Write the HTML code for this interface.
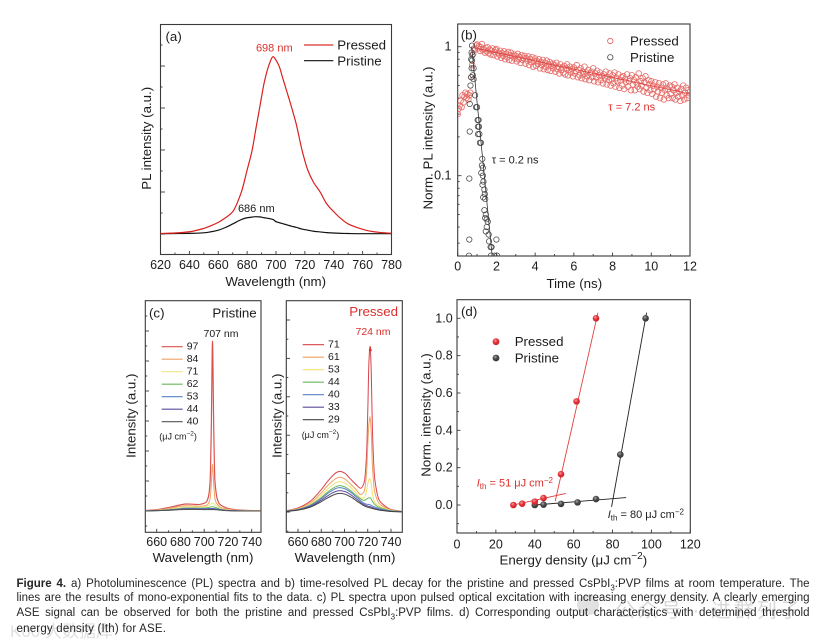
<!DOCTYPE html>
<html lang="en">
<head>
<meta charset="utf-8">
<title>Figure 4</title>
<style>
html,body{margin:0;padding:0;background:#fff;width:821px;height:641px;overflow:hidden}
#fig{position:absolute;left:0;top:0;filter:blur(0.28px)}
svg text{font-family:"Liberation Sans","Noto Sans CJK SC",sans-serif;fill:#1c1c1c}
.t{font-size:12.5px;dominant-baseline:central}
.a{font-size:13.3px;text-anchor:middle;dominant-baseline:central}
.l{font-size:13.3px;dominant-baseline:central}
.s{font-size:10.5px;dominant-baseline:central}
.n{font-size:11px;dominant-baseline:central}
.cap{position:absolute;left:16.5px;width:793px;font:11.5px/15px "Liberation Sans",sans-serif;color:#262626;text-align:justify;text-align-last:justify;white-space:nowrap;filter:blur(0.25px)}
.cap sub{font-size:8px;line-height:0}
.wm{position:absolute;font-family:"Liberation Sans","Noto Sans CJK SC",sans-serif;color:#b9b9b9;white-space:nowrap;opacity:.75}
</style>
</head>
<body>
<svg id="fig" width="821" height="641" viewBox="0 0 821 641">
<defs>
<radialGradient id="ballRed" cx="40%" cy="35%" r="65%"><stop offset="0" stop-color="#f6a3a3"/><stop offset=".45" stop-color="#e8343c"/><stop offset="1" stop-color="#c8202a"/></radialGradient>
<radialGradient id="ballBlack" cx="40%" cy="35%" r="65%"><stop offset="0" stop-color="#a8a8a8"/><stop offset=".45" stop-color="#4e4e4e"/><stop offset="1" stop-color="#333"/></radialGradient>
<clipPath id="clipB"><rect x="458" y="24" width="232" height="232"/></clipPath>
<clipPath id="clipC"><rect x="145.5" y="301" width="115.5" height="231"/></clipPath>
<clipPath id="clipP"><rect x="286.5" y="301" width="116" height="231"/></clipPath>
</defs>
<g id="panelA">
<text x="165.5" y="36.5" class="l">(a)</text>
<text x="274.3" y="48.3" class="n" text-anchor="middle" style="fill:#d9302c">698 nm</text>
<text x="256.3" y="209" class="n" text-anchor="middle">686 nm</text>
<line x1="304" x2="333.3" y1="45" y2="45" stroke="#d9302c" stroke-width="1.2"/>
<line x1="304" x2="333.3" y1="60.7" y2="60.7" stroke="#111" stroke-width="1.2"/>
<text x="337.3" y="45" class="l">Pressed</text>
<text x="337.3" y="61" class="l">Pristine</text>
<text class="a" x="275.7" y="281.7">Wavelength (nm)</text>
<text class="a" transform="translate(146.7 138.3) rotate(-90)">PL intensity (a.u.)</text>
</g>
<g id="panelB">
<text x="460.7" y="35" class="l">(b)</text>
<text x="630" y="41" class="l">Pressed</text>
<text x="630" y="57.5" class="l">Pristine</text>
<circle cx="610.3" cy="41" r="2.7" fill="none" stroke="#e2605c" stroke-width=".8"/>
<circle cx="610.3" cy="57.3" r="2.7" fill="none" stroke="#444" stroke-width=".8"/>
<text x="608.3" y="107.7" class="n" style="fill:#d9302c">τ = 7.2 ns</text>
<text x="491.7" y="160.3" class="n">τ = 0.2 ns</text>
<text class="a" x="574.3" y="283.3">Time (ns)</text>
<text class="a" transform="translate(428 138) rotate(-90)">Norm. PL intensity (a.u.)</text>
</g>
<g id="panelC">
<text x="149" y="313" class="l">(c)</text>
<text x="256.7" y="313" class="l" text-anchor="end">Pristine</text>
<text x="221" y="334" class="s" text-anchor="middle">707 nm</text>
<text x="159.3" y="436.5" style="font-size:9px;dominant-baseline:central">(μJ cm<tspan dy="-3" font-size="6.5">−2</tspan><tspan dy="3">)</tspan></text>
<text class="a" x="203" y="557.7">Wavelength (nm)</text>
<text class="a" transform="translate(131 415.7) rotate(-90)">Intensity (a.u.)</text>
</g>
<g id="panelP">
<text x="398" y="311.7" class="l" text-anchor="end" style="fill:#d9302c">Pressed</text>
<text x="373" y="332" class="s" text-anchor="middle" style="fill:#d9302c">724 nm</text>
<text x="301.7" y="435" style="font-size:9px;dominant-baseline:central">(μJ cm<tspan dy="-3" font-size="6.5">−2</tspan><tspan dy="3">)</tspan></text>
<text class="a" x="345" y="557.7">Wavelength (nm)</text>
<text class="a" transform="translate(277 415.7) rotate(-90)">Intensity (a.u.)</text>
</g>
<g id="panelD">
<text x="461" y="311.7" class="l">(d)</text>
<text x="514.7" y="341.7" class="l">Pressed</text>
<text x="514.7" y="358" class="l">Pristine</text>
<circle cx="496" cy="341.7" r="3.4" fill="url(#ballRed)"/>
<circle cx="496" cy="358" r="3.4" fill="url(#ballBlack)"/>
<text x="476.7" y="483.3" class="n" style="fill:#d9302c"><tspan font-style="italic">I</tspan><tspan dy="2.5" font-size="8">th</tspan><tspan dy="-2.5"> = 51 μJ cm</tspan><tspan dy="-3.5" font-size="8">−2</tspan></text>
<text x="607.7" y="515" class="n"><tspan font-style="italic">I</tspan><tspan dy="2.5" font-size="8">th</tspan><tspan dy="-2.5"> = 80 μJ cm</tspan><tspan dy="-3.5" font-size="8">−2</tspan></text>
<text class="a" x="573.3" y="560">Energy density (μJ cm<tspan dy="-4" font-size="10">−2</tspan><tspan dy="4">)</tspan></text>
<text class="a" transform="translate(426 415) rotate(-90)">Norm. intensity (a.u.)</text>
</g>
</svg>

<div class="wm" style="left:10px;top:617px;font-size:17px;opacity:.45">K00 大数据库</div>
<div style="position:absolute;left:577px;top:595px;width:22px;height:20px;border-radius:50%;background:#c9c9c9;opacity:.55"></div>
<div class="wm" style="left:615px;top:594px;font-size:20px;letter-spacing:3px;opacity:.55">公众号 · 进群列子</div>

<div class="cap" style="top:576.5px"><b>Figure 4.</b> a) Photoluminescence (PL) spectra and b) time-resolved PL decay for the pristine and pressed CsPbI<sub>3</sub>:PVP films at room temperature. The</div>
<div class="cap" style="top:591px">lines are the results of mono-exponential fits to the data. c) PL spectra upon pulsed optical excitation with increasing energy density. A clearly emerging</div>
<div class="cap" style="top:606px">ASE signal can be observed for both the pristine and pressed CsPbI<sub>3</sub>:PVP films. d) Corresponding output characteristics with determined threshold</div>
<div class="cap" style="top:622px;text-align-last:left;letter-spacing:.2px">energy density (Ith) for ASE.</div>

<script>
// ---------- Panel (a) data ----------
const aWavelengths = [620,630,640,650,655,660,665,670,676,680,683.5,686,688.6,692,695,698,700,702,705,708,711,714,718,722,726,730.6,735,740,745,750,758,765,772,780];
const aPressed = [0.001,0.004,0.011,0.03,0.045,0.064,0.09,0.124,0.235,0.36,0.473,0.59,0.708,0.86,0.95,1,0.98,0.95,0.87,0.79,0.708,0.62,0.473,0.36,0.29,0.235,0.17,0.124,0.085,0.055,0.03,0.015,0.007,0.002];
const aPristine = [0,0.001,0.002,0.005,0.011,0.02,0.035,0.055,0.08,0.09,0.094,0.096,0.095,0.09,0.086,0.08,0.068,0.063,0.056,0.049,0.042,0.036,0.026,0.02,0.014,0.01,0.006,0.004,0.002,0.001,0,0,0,0];
const aXTicks = [620,640,660,680,700,720,740,760,780];

// ---------- Panel (b) data ----------
const bPressedStep = 0.05;
const bPressed = [
.30,.33,.35,.38,.34,.42,.37,.41,.44,.40,
.43,.39,.42,.44,.58,.72,.88,.97,.95,1.02,
1.04,.97,1.01,.93,.99,1.05,.94,.96,.90,.98,
.92,.99,.89,.95,.87,.93,.97,.86,.91,.94,
.96,.84,.90,.87,.93,.82,.89,.85,.92,.80,
.88,.83,.91,.79,.86,.90,.78,.84,.87,.81,
.85,.77,.88,.80,.83,.75,.86,.79,.82,.85,
.74,.81,.78,.84,.72,.80,.76,.83,.70,.78,
.81,.71,.77,.74,.80,.68,.76,.72,.79,.67,
.75,.70,.78,.66,.73,.76,.65,.71,.74,.68,
.72,.64,.75,.67,.70,.62,.73,.66,.69,.63,
.71,.61,.68,.73,.60,.66,.70,.63,.67,.59,
.69,.62,.65,.72,.58,.66,.60,.68,.57,.64,
.61,.70,.56,.63,.59,.66,.55,.62,.64,.58,
.68,.54,.62,.58,.65,.53,.60,.63,.55,.59,
.52,.61,.57,.64,.51,.58,.55,.62,.50,.56,
.60,.52,.63,.49,.57,.54,.61,.48,.55,.58,
.50,.59,.47,.56,.53,.61,.49,.54,.57,.46,
.60,.51,.55,.46,.58,.52,.49,.62,.47,.54,
.50,.57,.45,.53,.59,.48,.44,.55,.51,.46,
.54,.43,.50,.47,.53,.41,.49,.45,.52,.40,
.48,.44,.51,.39,.46,.52,.42,.47,.40,.50,
.43,.49,.40,.46,.51,.39,.44,.48,.41,.45,
.38,.47,.42,.50,.39,.44,.48,.40,.46,.42,
.45];
const bPristineT = [.74,.72,.76,.70,.74,.72,.82,.70,.66,.82,.78,.9,.62,.62,.6,.6,.58,.95,1.0,1.03,1.08,1.05,1.1,1.05,1.12,1.15,1.2,1.27,1.25,1.3,1.22,1.3,1.33,1.28,1.38,1.4,1.32,1.42,1.38,1.45,1.42,1.5,1.55,1.5,1.45,1.6,2.0,1.62,1.7,1.75,1.72,1.9,2.03];
const bPristineV = [1.02,.9,.86,.80,.78,.68,.68,.58,.50,.56,.60,.42,.36,.22,.095,.032,.024,.34,.34,.27,.27,.24,.24,.21,.21,.18,.18,.135,.12,.115,.105,.1,.09,.085,.078,.072,.068,.066,.054,.05,.047,.046,.044,.04,.037,.035,.032,.031,.028,.028,.024,.024,.024];
const bFitPressedT = [0.85,12];
const bFitPressedV = [0.98,0.43];
const bFitPristineT = [0.72,1.78];
const bFitPristineV = [1.0,0.024];
const bXTicks = [0,2,4,6,8,10,12];

// ---------- Panel (c) pristine data ----------
const cWavelengths = [650,660,670,680,685,690,695,700,702,703,704,705,706,707,708,709,710,711,713,715,720,730,740,748];
const cLabels = ['97','84','71','62','53','44','40'];
const cColors = ['#d9534f','#efa063','#efe88a','#6ab85c','#5a80c4','#5c4a9c','#555555'];
const c97 = [.002,.008,.02,.036,.041,.04,.038,.045,.055,.07,.10,.18,.5,1,.5,.18,.11,.07,.04,.03,.015,.005,.002,.001];
const c84 = [.002,.006,.015,.027,.031,.03,.028,.03,.033,.04,.05,.075,.16,.275,.16,.075,.05,.04,.025,.018,.01,.003,.001,.001];
const c71 = [.001,.004,.01,.02,.024,.024,.023,.025,.027,.03,.033,.038,.044,.047,.044,.038,.032,.028,.018,.012,.006,.002,.001,0];
const c62 = [.001,.003,.008,.015,.018,.018,.017,.018,.019,.02,.021,.023,.024,.025,.024,.022,.02,.018,.012,.009,.004,.001,.001,0];
const c53 = [.001,.002,.006,.012,.015,.015,.014,.014,.014,.014,.015,.015,.015,.015,.015,.014,.013,.012,.009,.007,.003,.001,0,0];
const c44 = [0,.002,.005,.01,.012,.012,.011,.011,.011,.011,.011,.012,.012,.012,.011,.011,.01,.009,.007,.005,.002,.001,0,0];
const c40 = [0,.002,.004,.008,.009,.009,.009,.008,.008,.008,.008,.008,.008,.008,.008,.008,.007,.007,.005,.004,.002,0,0,0];
const cXTicks = [660,680,700,720,740];

// ---------- Panel (c) pressed data ----------
const pWavelengths = [650,660,670,680,685,690,693,696,700,705,710,714,717,719,720,721,722,723,724,726,730,735,740,750];
const pLabels = ['71','61','53','44','40','33','29'];
const pColors = ['#d9434a','#efa063','#f2e070','#6ab85c','#5a80c4','#5c4a9c','#444444'];
const p71 = [.007,.025,.062,.135,.181,.22,.238,.245,.235,.2,.165,.143,.18,.35,.6,.9,1,.85,.5,.2,.07,.035,.015,.004];
const p61 = [.006,.021,.052,.115,.155,.188,.203,.209,.2,.17,.135,.105,.125,.24,.4,.53,.575,.48,.28,.12,.05,.027,.012,.003];
const p53 = [.005,.018,.046,.1,.135,.165,.178,.183,.175,.15,.115,.085,.085,.13,.17,.195,.2,.17,.11,.06,.035,.02,.01,.003];
const p44 = [.005,.016,.04,.087,.118,.143,.154,.159,.152,.13,.1,.078,.07,.078,.083,.086,.086,.078,.065,.045,.027,.016,.008,.002];
const p40 = [.004,.015,.037,.08,.109,.132,.143,.147,.141,.121,.092,.068,.052,.047,.046,.045,.043,.04,.036,.03,.02,.012,.006,.002];
const p33 = [.004,.013,.032,.071,.095,.116,.125,.129,.124,.106,.08,.058,.044,.038,.036,.034,.032,.03,.027,.022,.014,.009,.004,.001];
const p29 = [.003,.011,.028,.062,.083,.101,.109,.112,.108,.092,.069,.05,.037,.031,.029,.027,.025,.023,.021,.017,.011,.007,.003,.001];

// ---------- Panel (d) data ----------
const dPressedX = [29,33.5,40,44.5,53.5,61.5,71.5];
const dPressedY = [0,0.007,0.018,0.037,0.165,0.555,1.0];
const dPristineX = [40,44.5,53.5,62,71.5,84,97];
const dPristineY = [0,0.002,0.006,0.014,0.032,0.27,1.0];
const dFitPressedLowX = [29,56];
const dFitPressedLowY = [0,0.062];
const dFitPressedHighX = [50.5,72.5];
const dFitPressedHighY = [0.02,1.03];
const dFitPristineLowX = [40,87];
const dFitPristineLowY = [0,0.04];
const dFitPristineHighX = [79.5,97.5];
const dFitPristineHighY = [-0.01,1.03];
const dXTicks = [0,20,40,60,80,100,120];
const dYTicks = [0,0.2,0.4,0.6,0.8,1.0];

const NS = 'http://www.w3.org/2000/svg';
function mk(parent, tag, attrs, name) {
  const el = document.createElementNS(NS, tag);
  for (const k in attrs) el.setAttribute(k, attrs[k]);
  
  
  parent.appendChild(el);
  return el;
}
function linear(d0, d1, r0, r1) { return v => r0 + (v - d0) * (r1 - r0) / (d1 - d0); }
function frame(g, x0, y0, x1, y1, name) {
  mk(g, 'rect', {x:x0, y:y0, width:x1-x0, height:y1-y0, fill:'none', stroke:'#3a3a3a', 'stroke-width':1.1}, name);
}
function tick(g, x1, y1, x2, y2, name) {
  mk(g, 'line', {x1, y1, x2, y2, stroke:'#3a3a3a', 'stroke-width':0.9}, name);
}
function label(g, x, y, str, cls, anchor, name) {
  const t = mk(g, 'text', {x, y, class:cls}, name);
  t.style.textAnchor = anchor || 'middle';
  t.textContent = str;
  return t;
}
// Monotone cubic path through the data points (no overshoot at spikes)
function smoothPath(px, py) {
  const n = px.length, d = [], m = [];
  for (let i = 0; i < n - 1; i++) d.push((py[i + 1] - py[i]) / (px[i + 1] - px[i]));
  m[0] = d[0];
  m[n - 1] = d[n - 2];
  for (let i = 1; i < n - 1; i++) {
    m[i] = d[i - 1] * d[i] <= 0 ? 0 : 2 * d[i - 1] * d[i] / (d[i - 1] + d[i]);
  }
  let s = 'M' + px[0].toFixed(2) + ' ' + py[0].toFixed(2);
  for (let i = 0; i < n - 1; i++) {
    const h = (px[i + 1] - px[i]) / 3;
    s += ' C' + (px[i] + h).toFixed(2) + ' ' + (py[i] + m[i] * h).toFixed(2) + ' ' +
         (px[i + 1] - h).toFixed(2) + ' ' + (py[i + 1] - m[i + 1] * h).toFixed(2) + ' ' +
         px[i + 1].toFixed(2) + ' ' + py[i + 1].toFixed(2);
  }
  return s;
}
function curve(g, xs, ys, sx, sy, color, width, name, clip) {
  const a = {d:smoothPath(xs.map(sx), ys.map(sy)), fill:'none', stroke:color, 'stroke-width':width, 'stroke-linejoin':'round'};
  if (clip) a['clip-path'] = 'url(#' + clip + ')';
  return mk(g, 'path', a, name);
}

// ===== Panel A =====
(function () {
  const g = document.getElementById('panelA');
  const sx = linear(620, 780, 160.5, 391.5);
  const sy = linear(0, 1, 233.7, 56.7);
  frame(g, 160.5, 24.5, 391.5, 254.5, 'plot-frame-a');
  aXTicks.forEach(v => {
    tick(g, sx(v), 254.5, sx(v), 251, 'x-tick-a');
    label(g, sx(v), 265, String(v), 't', null, 'x-tick-label-a');
    if (v < 780) tick(g, sx(v + 10), 254.5, sx(v + 10), 252.5, 'x-minor-tick-a');
  });
  for (let k = 0; k < 10; k++) {
    const y = 45 + k * 21;
    tick(g, 160.5, y, k % 2 ? 165 : 162.5, y, 'y-tick-a');
  }
  curve(g, aWavelengths, aPristine, sx, sy, '#111', 1.2, 'pristine-curve');
  curve(g, aWavelengths, aPressed, sx, sy, '#d9201c', 1.2, 'pressed-curve');
})();

// ===== Panel B =====
(function () {
  const g = document.getElementById('panelB');
  const sx = linear(0, 12, 457.7, 690);
  const sy = v => 46.7 - Math.log10(v) * 129;
  frame(g, 457.7, 24, 690, 256, 'plot-frame-b');
  bXTicks.forEach(v => {
    tick(g, sx(v), 256, sx(v), 252.5, 'x-tick-b');
    label(g, sx(v), 266.7, String(v), 't', null, 'x-tick-label-b');
    if (v < 12) tick(g, sx(v + 1), 256, sx(v + 1), 254, 'x-minor-tick-b');
  });
  [1, 0.1].forEach(v => {
    tick(g, 457.7, sy(v), 461.5, sy(v), 'y-tick-b');
    label(g, 451.5, sy(v), String(v), 't', 'end', 'y-tick-label-b');
  });
  [0.9,0.8,0.7,0.6,0.5,0.4,0.3,0.2,0.09,0.08,0.07,0.06,0.05,0.04,0.03].forEach(v => {
    tick(g, 457.7, sy(v), 459.7, sy(v), 'y-minor-tick-b');
  });
  bPressed.forEach((v, i) => {
    mk(g, 'circle', {cx:sx(i * bPressedStep), cy:sy(v), r:2.8, fill:'none', stroke:'#e66a66', 'stroke-width':0.8, 'clip-path':'url(#clipB)'}, 'pressed-decay-point');
  });
  bPristineT.forEach((t, i) => {
    mk(g, 'circle', {cx:sx(t), cy:sy(bPristineV[i]), r:2.7, fill:'none', stroke:'#444', 'stroke-width':0.75, 'clip-path':'url(#clipB)'}, 'pristine-decay-point');
  });
  curve(g, bFitPressedT, bFitPressedV, sx, sy, '#d8403c', 0.8, 'pressed-fit-line', 'clipB');
  curve(g, bFitPristineT, bFitPristineV, sx, sy, '#333', 0.8, 'pristine-fit-line', 'clipB');
})();

// ===== Panel C pristine =====
(function () {
  const g = document.getElementById('panelC');
  const sx = linear(660, 740, 156.7, 251.7);
  const sy = linear(0, 1, 511, 341);
  frame(g, 145.3, 300.7, 261, 532.3, 'plot-frame-c');
  cXTicks.forEach(v => {
    tick(g, sx(v), 532.3, sx(v), 528.8, 'x-tick-c');
    label(g, sx(v), 542, String(v), 't', null, 'x-tick-label-c');
    if (v < 740) tick(g, sx(v + 10), 532.3, sx(v + 10), 530.3, 'x-minor-tick-c');
  });
  for (let k = -1; k < 14; k++) {
    const y = 511 - k * 15;
    tick(g, 145.3, y, k % 2 ? 147.3 : 149, y, 'y-tick-c');
  }
  const series = [c97, c84, c71, c62, c53, c44, c40];
  series.forEach((s, i) => {
    curve(g, cWavelengths, s, sx, sy, cColors[i], i === 0 ? 1.2 : 1, 'pristine-spectrum-' + cLabels[i], 'clipC');
    const y = 346.7 + i * 12.5;
    mk(g, 'line', {x1:161.7, x2:182.7, y1:y, y2:y, stroke:cColors[i], 'stroke-width':1.2}, 'legend-line-' + cLabels[i]);
    label(g, 186.7, y, cLabels[i], 's', 'start', 'legend-label-' + cLabels[i]);
  });
})();

// ===== Panel C pressed =====
(function () {
  const g = document.getElementById('panelP');
  const sx = linear(660, 740, 298, 391);
  const sy = linear(0, 1, 512, 346);
  frame(g, 286.3, 300.7, 402.3, 532.3, 'plot-frame-pressed');
  cXTicks.forEach(v => {
    tick(g, sx(v), 532.3, sx(v), 528.8, 'x-tick-pressed');
    label(g, sx(v), 542, String(v), 't', null, 'x-tick-label-pressed');
    if (v < 740) tick(g, sx(v + 10), 532.3, sx(v + 10), 530.3, 'x-minor-tick-pressed');
  });
  for (let k = -1; k < 11; k++) {
    const y = 512 - k * 19.2;
    tick(g, 286.3, y, k % 2 ? 288.3 : 290, y, 'y-tick-pressed');
  }
  const series = [p71, p61, p53, p44, p40, p33, p29];
  series.forEach((s, i) => {
    curve(g, pWavelengths, s, sx, sy, pColors[i], 1, 'pressed-spectrum-' + pLabels[i], 'clipP');
    const y = 344.7 + i * 12.5;
    mk(g, 'line', {x1:302.7, x2:324, y1:y, y2:y, stroke:pColors[i], 'stroke-width':1.1}, 'legend-line-' + pLabels[i]);
    label(g, 328, y, pLabels[i], 's', 'start', 'legend-label-' + pLabels[i]);
  });
  mk(g, 'path', {d:'M370.3 346 l-1.6 5 h3.2 z', fill:'#d9302c'}, 'peak-arrow');
})();

// ===== Panel D =====
(function () {
  const g = document.getElementById('panelD');
  const sx = linear(0, 120, 457, 690.3);
  const sy = linear(0, 1, 505, 318.3);
  frame(g, 457, 299.7, 690.3, 533, 'plot-frame-d');
  dXTicks.forEach(v => {
    tick(g, sx(v), 533, sx(v), 529.5, 'x-tick-d');
    label(g, sx(v), 544.3, String(v), 't', null, 'x-tick-label-d');
    if (v < 120) tick(g, sx(v + 10), 533, sx(v + 10), 531, 'x-minor-tick-d');
  });
  dYTicks.forEach(v => {
    tick(g, 457, sy(v), 460.5, sy(v), 'y-tick-d');
    label(g, 452.7, sy(v), v.toFixed(1), 't', 'end', 'y-tick-label-d');
    tick(g, 457, sy(v - 0.1), 459, sy(v - 0.1), 'y-minor-tick-d');
  });
  curve(g, dFitPressedLowX, dFitPressedLowY, sx, sy, '#e0403c', 0.9, 'pressed-low-fit');
  curve(g, dFitPressedHighX, dFitPressedHighY, sx, sy, '#e0403c', 0.9, 'pressed-high-fit');
  curve(g, dFitPristineLowX, dFitPristineLowY, sx, sy, '#222', 0.9, 'pristine-low-fit');
  curve(g, dFitPristineHighX, dFitPristineHighY, sx, sy, '#222', 0.9, 'pristine-high-fit');
  dPristineX.forEach((x, i) => {
    mk(g, 'circle', {cx:sx(x), cy:sy(dPristineY[i]), r:3.3, fill:'url(#ballBlack)'}, 'pristine-point');
  });
  dPressedX.forEach((x, i) => {
    mk(g, 'circle', {cx:sx(x), cy:sy(dPressedY[i]), r:3.3, fill:'url(#ballRed)'}, 'pressed-point');
  });
})();
</script>
</body>
</html>
